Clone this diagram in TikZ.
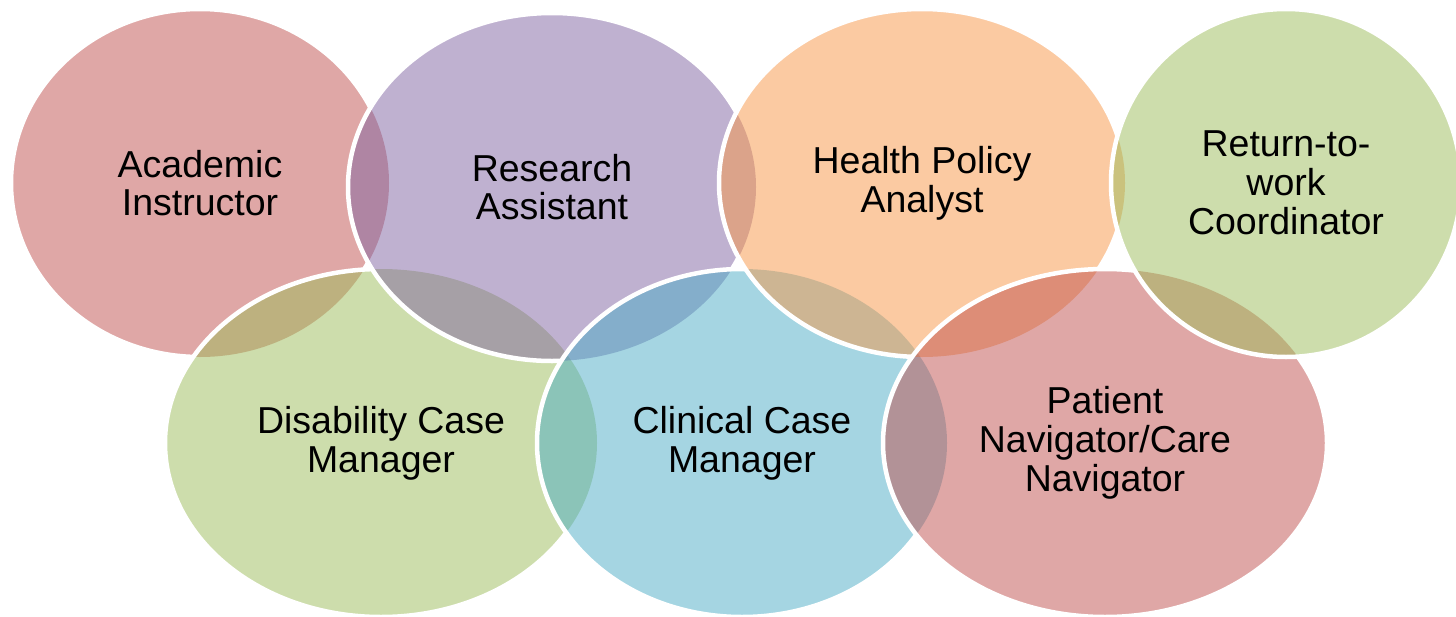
\documentclass[tikz,border=0pt]{standalone}
\usepackage{fontspec}
\setmainfont{Liberation Sans}
\usetikzlibrary{shapes.geometric}
\definecolor{accRed}{HTML}{C0504D}
\definecolor{accGreen}{HTML}{9BBB59}
\definecolor{accPurple}{HTML}{8064A2}
\definecolor{accAqua}{HTML}{4BACC6}
\definecolor{accOrange}{HTML}{F79646}
\newcommand\bubblefont{\fontsize{37.5pt}{38.8pt}\selectfont}
\newcommand\outsideof[4]{\clip (-60,-60) -- (1560,-60) -- (1560,700) -- (-60,700) -- cycle (#1,#2) ellipse [x radius=#3pt, y radius=#4pt];}
\newcommand\rimof[4]{\draw[rim] (#1,#2) ellipse [x radius=#3pt, y radius=#4pt];}
\tikzset{
  bubble/.style={ellipse, inner sep=0pt, outer sep=0pt, fill opacity=0.5, text opacity=1, align=center, font=\bubblefont, text=black},
  rim/.style={draw=white, line width=4.5pt},
}
\begin{document}
\begin{tikzpicture}[x=1pt,y=-1pt]
\useasboundingbox (0,0) rectangle (1456,616);
% fills, in drawing order
\node[bubble, fill=accRed, minimum width=378pt, minimum height=348pt] (acad) at (200,183) {Academic\\Instructor};
\node[bubble, fill=accGreen, minimum width=432pt, minimum height=348pt] (dis) at (381,443) {Disability Case\\Manager};
\node[bubble, fill=accPurple, minimum width=408pt, minimum height=348pt] (res) at (552,187) {Research\\Assistant};
\node[bubble, fill=accAqua, minimum width=410pt, minimum height=348pt] (clin) at (742,443) {Clinical Case\\Manager};
\node[bubble, fill=accOrange, minimum width=406pt, minimum height=348pt] (hpa) at (922,183) {Health Policy\\Analyst};
\node[bubble, fill=accRed, minimum width=444pt, minimum height=348pt] (pat) at (1105,443) {Patient\\Navigator/Care\\Navigator};
\node[bubble, fill=accGreen, minimum width=350pt, minimum height=348pt] (ret) at (1286,183) {Return-to-\\work\\Coordinator};
% white rims, hidden under later shapes
\begin{scope}
  \outsideof{381}{443}{216}{174}
  \outsideof{552}{187}{204}{174}
  \rimof{200}{183}{189}{174}
\end{scope}
\begin{scope}
  \outsideof{552}{187}{204}{174}
  \outsideof{742}{443}{205}{174}
  \rimof{381}{443}{216}{174}
\end{scope}
\begin{scope}
  \outsideof{742}{443}{205}{174}
  \outsideof{922}{183}{203}{174}
  \rimof{552}{187}{204}{174}
\end{scope}
\begin{scope}
  \outsideof{922}{183}{203}{174}
  \outsideof{1105}{443}{222}{174}
  \rimof{742}{443}{205}{174}
\end{scope}
\begin{scope}
  \outsideof{1105}{443}{222}{174}
  \outsideof{1286}{183}{175}{174}
  \rimof{922}{183}{203}{174}
\end{scope}
\begin{scope}
  \outsideof{1286}{183}{175}{174}
  \rimof{1105}{443}{222}{174}
\end{scope}
\rimof{1286}{183}{175}{174}
\end{tikzpicture}
\end{document}
